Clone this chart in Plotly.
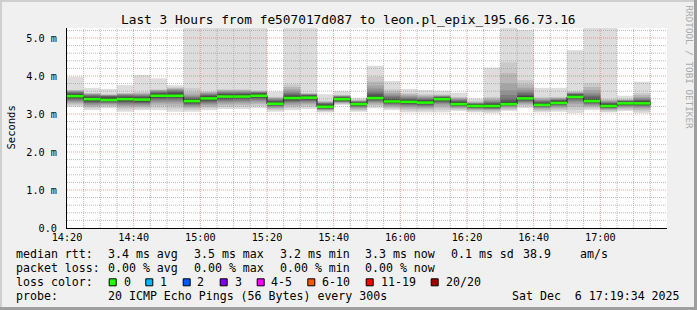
import plotly.graph_objects as go

# ---------------- data ----------------
DAY = "2025-12-06 "
bar_start = ["14:20", "14:25", "14:30", "14:35", "14:40", "14:45", "14:50", "14:55",
             "15:00", "15:05", "15:10", "15:15", "15:20", "15:25", "15:30", "15:35",
             "15:40", "15:45", "15:50", "15:55", "16:00", "16:05", "16:10", "16:15",
             "16:20", "16:25", "16:30", "16:35", "16:40", "16:45", "16:50", "16:55",
             "17:00", "17:05", "17:10"]
bar_end = bar_start[1:] + ["17:15"]

median_ms = [3.47, 3.39, 3.37, 3.39, 3.38, 3.48, 3.48, 3.34, 3.41, 3.46, 3.46, 3.48,
             3.27, 3.42, 3.43, 3.19, 3.39, 3.26, 3.42, 3.33, 3.32, 3.30, 3.39, 3.26,
             3.21, 3.21, 3.26, 3.41, 3.24, 3.29, 3.45, 3.34, 3.21, 3.28, 3.28]

# 20 sorted ping round-trip times per 5-minute step (ms), estimated from the smoke
pings_ms = [
    [3.19, 3.23, 3.27, 3.30, 3.33, 3.36, 3.38, 3.40, 3.42, 3.44, 3.50, 3.52, 3.54, 3.56, 3.58, 3.60, 3.61, 3.62, 3.63, 3.98],
    [3.10, 3.15, 3.19, 3.22, 3.25, 3.28, 3.30, 3.32, 3.34, 3.36, 3.42, 3.44, 3.46, 3.48, 3.50, 3.52, 3.53, 3.54, 3.55, 3.69],
    [3.15, 3.19, 3.22, 3.25, 3.27, 3.29, 3.31, 3.33, 3.35, 3.36, 3.42, 3.44, 3.46, 3.47, 3.48, 3.49, 3.50, 3.51, 3.52, 3.66],
    [3.06, 3.12, 3.17, 3.21, 3.24, 3.27, 3.30, 3.32, 3.34, 3.36, 3.42, 3.44, 3.46, 3.48, 3.50, 3.52, 3.53, 3.54, 3.55, 3.76],
    [3.10, 3.14, 3.18, 3.21, 3.24, 3.27, 3.29, 3.31, 3.33, 3.35, 3.41, 3.43, 3.45, 3.47, 3.49, 3.51, 3.53, 3.55, 3.58, 4.03],
    [3.10, 3.17, 3.23, 3.28, 3.32, 3.36, 3.39, 3.41, 3.43, 3.45, 3.51, 3.53, 3.55, 3.57, 3.59, 3.61, 3.62, 3.63, 3.65, 3.94],
    [3.06, 3.14, 3.21, 3.27, 3.32, 3.36, 3.39, 3.42, 3.44, 3.46, 3.51, 3.54, 3.57, 3.60, 3.62, 3.64, 3.66, 3.68, 3.70, 3.76],
    [3.06, 3.11, 3.15, 3.18, 3.21, 3.24, 3.26, 3.28, 3.30, 3.32, 3.37, 3.39, 3.41, 3.43, 3.45, 3.48, 3.52, 3.58, 3.68, 5.90],
    [3.10, 3.15, 3.19, 3.23, 3.26, 3.29, 3.32, 3.34, 3.36, 3.38, 3.44, 3.46, 3.48, 3.50, 3.52, 3.54, 3.56, 3.58, 3.59, 5.90],
    [3.13, 3.18, 3.23, 3.27, 3.31, 3.34, 3.37, 3.39, 3.41, 3.43, 3.49, 3.51, 3.53, 3.55, 3.57, 3.59, 3.61, 3.63, 3.65, 5.90],
    [3.13, 3.19, 3.24, 3.28, 3.32, 3.35, 3.38, 3.40, 3.42, 3.44, 3.49, 3.51, 3.53, 3.55, 3.57, 3.59, 3.61, 3.63, 3.65, 5.90],
    [3.15, 3.21, 3.26, 3.30, 3.34, 3.37, 3.40, 3.42, 3.44, 3.46, 3.51, 3.53, 3.55, 3.56, 3.57, 3.58, 3.59, 3.60, 3.62, 5.90],
    [3.06, 3.10, 3.13, 3.16, 3.18, 3.20, 3.22, 3.23, 3.24, 3.25, 3.30, 3.32, 3.34, 3.36, 3.38, 3.40, 3.42, 3.44, 3.45, 3.59],
    [3.10, 3.15, 3.20, 3.24, 3.28, 3.31, 3.33, 3.35, 3.37, 3.39, 3.45, 3.47, 3.50, 3.53, 3.56, 3.60, 3.65, 3.71, 3.78, 5.90],
    [3.13, 3.18, 3.23, 3.27, 3.30, 3.33, 3.35, 3.37, 3.39, 3.41, 3.46, 3.48, 3.49, 3.50, 3.51, 3.52, 3.53, 3.54, 3.55, 5.90],
    [3.04, 3.07, 3.09, 3.11, 3.12, 3.13, 3.14, 3.15, 3.16, 3.17, 3.22, 3.24, 3.26, 3.28, 3.29, 3.30, 3.31, 3.33, 3.35, 3.52],
    [3.24, 3.26, 3.28, 3.30, 3.31, 3.32, 3.33, 3.34, 3.35, 3.37, 3.42, 3.43, 3.44, 3.45, 3.46, 3.47, 3.48, 3.49, 3.50, 3.60],
    [3.06, 3.09, 3.12, 3.15, 3.17, 3.19, 3.20, 3.21, 3.22, 3.24, 3.29, 3.30, 3.31, 3.32, 3.33, 3.34, 3.35, 3.36, 3.38, 3.43],
    [3.15, 3.20, 3.24, 3.28, 3.31, 3.33, 3.35, 3.37, 3.39, 3.40, 3.45, 3.48, 3.52, 3.56, 3.61, 3.67, 3.75, 3.85, 3.98, 4.27],
    [3.10, 3.14, 3.17, 3.20, 3.23, 3.25, 3.27, 3.29, 3.30, 3.31, 3.36, 3.38, 3.41, 3.44, 3.47, 3.51, 3.55, 3.60, 3.65, 3.87],
    [3.04, 3.09, 3.13, 3.17, 3.20, 3.23, 3.25, 3.27, 3.28, 3.30, 3.35, 3.37, 3.39, 3.41, 3.43, 3.46, 3.49, 3.52, 3.55, 3.66],
    [3.04, 3.09, 3.13, 3.16, 3.19, 3.21, 3.23, 3.25, 3.27, 3.28, 3.33, 3.35, 3.37, 3.39, 3.41, 3.44, 3.46, 3.49, 3.52, 3.63],
    [3.04, 3.11, 3.17, 3.22, 3.26, 3.29, 3.31, 3.33, 3.35, 3.37, 3.42, 3.43, 3.44, 3.45, 3.46, 3.47, 3.48, 3.50, 3.52, 3.61],
    [3.08, 3.11, 3.14, 3.16, 3.18, 3.20, 3.21, 3.22, 3.23, 3.24, 3.29, 3.31, 3.33, 3.35, 3.37, 3.39, 3.41, 3.43, 3.45, 3.56],
    [3.04, 3.07, 3.10, 3.12, 3.14, 3.15, 3.16, 3.17, 3.18, 3.19, 3.24, 3.25, 3.26, 3.27, 3.28, 3.29, 3.30, 3.32, 3.35, 3.41],
    [3.02, 3.06, 3.09, 3.11, 3.13, 3.14, 3.15, 3.16, 3.17, 3.19, 3.24, 3.26, 3.28, 3.30, 3.32, 3.35, 3.38, 3.41, 3.45, 4.22],
    [3.08, 3.11, 3.14, 3.17, 3.19, 3.21, 3.22, 3.23, 3.24, 3.25, 3.29, 3.32, 3.36, 3.42, 3.50, 3.62, 3.80, 4.07, 4.36, 5.90],
    [3.15, 3.20, 3.24, 3.27, 3.30, 3.32, 3.34, 3.36, 3.38, 3.39, 3.44, 3.47, 3.50, 3.54, 3.58, 3.63, 3.69, 3.78, 3.89, 5.21],
    [3.04, 3.08, 3.11, 3.14, 3.16, 3.18, 3.19, 3.20, 3.21, 3.22, 3.27, 3.29, 3.31, 3.33, 3.35, 3.37, 3.39, 3.42, 3.45, 3.69],
    [3.06, 3.10, 3.14, 3.17, 3.20, 3.22, 3.24, 3.25, 3.26, 3.27, 3.32, 3.34, 3.36, 3.37, 3.38, 3.40, 3.41, 3.43, 3.45, 3.69],
    [3.02, 3.11, 3.19, 3.26, 3.31, 3.35, 3.38, 3.40, 3.42, 3.43, 3.48, 3.50, 3.52, 3.53, 3.54, 3.55, 3.56, 3.58, 3.60, 4.68],
    [3.10, 3.14, 3.18, 3.21, 3.24, 3.26, 3.28, 3.30, 3.31, 3.32, 3.37, 3.40, 3.43, 3.47, 3.51, 3.56, 3.63, 3.71, 3.81, 5.90],
    [3.04, 3.07, 3.10, 3.12, 3.14, 3.15, 3.16, 3.17, 3.18, 3.19, 3.24, 3.26, 3.28, 3.29, 3.31, 3.33, 3.35, 3.37, 3.40, 5.90],
    [3.08, 3.11, 3.14, 3.17, 3.19, 3.21, 3.23, 3.24, 3.25, 3.26, 3.31, 3.32, 3.33, 3.34, 3.35, 3.36, 3.37, 3.38, 3.40, 3.48],
    [3.02, 3.07, 3.11, 3.15, 3.18, 3.20, 3.22, 3.24, 3.25, 3.26, 3.31, 3.33, 3.35, 3.37, 3.39, 3.42, 3.45, 3.50, 3.55, 3.85],
]

x_tick_labels = ["14:20", "14:40", "15:00", "15:20", "15:40", "16:00", "16:20", "16:40", "17:00"]
x_minor_labels = ["14:25", "14:30", "14:35", "14:45", "14:50", "14:55", "15:05", "15:10", "15:15",
                  "15:25", "15:30", "15:35", "15:45", "15:50", "15:55", "16:05", "16:10", "16:15",
                  "16:25", "16:30", "16:35", "16:45", "16:50", "16:55", "17:05", "17:10", "17:15"]
y_tick_vals = [0, 1, 2, 3, 4, 5]
y_tick_text = ["0.0", "1.0 m", "2.0 m", "3.0 m", "4.0 m", "5.0 m"]
y_minor_vals = [0.2, 0.4, 0.6, 0.8, 1.2, 1.4, 1.6, 1.8, 2.2, 2.4, 2.6, 2.8, 3.2, 3.4, 3.6, 3.8,
                4.2, 4.4, 4.6, 4.8, 5.2]

smoke_colors = ["#dddddd", "#cacaca", "#b7b7b7", "#a4a4a4", "#919191",
                "#7e7e7e", "#6b6b6b", "#585858", "#454545", "#323232"]

loss_legend = [("0", "#26ff00"), ("1", "#00b8ff"), ("2", "#0059ff"), ("3", "#7e00ff"),
               ("4-5", "#ff00ff"), ("6-10", "#ff5500"), ("11-19", "#ff0000"), ("20/20", "#a10000")]

# ---------------- geometry ----------------
W, H = 697, 310
L, R, T, B = 67, 667, 28, 228
X0, X1 = DAY + "14:20:00", DAY + "17:20:00"
YMAX = 200 / 38.0
STEP_MS = 5 * 60 * 1000
MONO = "DejaVu Sans Mono"


def pxx(x):
    return (x - L) / (R - L)


def pxy(y):
    return (B - y) / (B - T)


def ts(hm):
    return DAY + hm + ":00"


xs = [ts(t) for t in bar_start]

fig = go.Figure()

# smoke layers (bars: drawn below all scatter traces)
n = 20
for k in range(10):
    lo = [p[k] for p in pings_ms]
    hi = [p[n - 1 - k] for p in pings_ms]
    fig.add_trace(go.Bar(
        x=xs, base=lo, y=[h - l for h, l in zip(hi, lo)],
        width=[STEP_MS] * len(xs), offset=0,
        marker=dict(color=smoke_colors[k], line=dict(width=0)),
        hoverinfo="skip", showlegend=False))


# grid (drawn over the smoke, as rrdtool does)
def hlines(vals):
    xx, yy = [], []
    for v in vals:
        xx += [X0, X1, None]
        yy += [v, v, None]
    return xx, yy


def vlines(labels):
    xx, yy = [], []
    for t in labels:
        xx += [ts(t), ts(t), None]
        yy += [0, YMAX, None]
    return xx, yy


minor_col = "rgba(143,143,143,0.6)"
major_col = "rgba(222,80,80,0.55)"
for xx, yy, col in [hlines(y_minor_vals) + (minor_col,), vlines(x_minor_labels) + (minor_col,),
                    hlines(y_tick_vals[1:]) + (major_col,), vlines(x_tick_labels[1:]) + (major_col,)]:
    fig.add_trace(go.Scatter(x=xx, y=yy, mode="lines",
                             line=dict(color=col, width=1, dash="1px,1px"),
                             hoverinfo="skip", showlegend=False))

# median step line (dark)
fig.add_trace(go.Scatter(
    x=xs + [ts(bar_end[-1])], y=median_ms + [median_ms[-1]],
    mode="lines", line=dict(color="#202020", width=1, shape="hv"),
    hoverinfo="skip", showlegend=False))

# median band coloured by loss (0 loss -> green), one segment per step
gx, gy = [], []
for s, e, m in zip(bar_start, bar_end, median_ms):
    gx += [ts(s), ts(e), None]
    gy += [m, m, None]
fig.add_trace(go.Scatter(x=gx, y=gy, mode="lines",
                         line=dict(color="#26ff00", width=2.6),
                         hoverinfo="skip", showlegend=False))

# axis arrows
fig.add_trace(go.Scatter(x=[X0], y=[YMAX + 3 / 38.0], mode="markers", cliponaxis=False,
                         marker=dict(symbol="triangle-up", size=6, color="#7f1f1f"),
                         hoverinfo="skip", showlegend=False))
fig.add_trace(go.Scatter(x=[DAY + "17:21:00"], y=[0], mode="markers", cliponaxis=False,
                         marker=dict(symbol="triangle-right", size=6, color="#7f1f1f"),
                         hoverinfo="skip", showlegend=False))

# ---------------- layout ----------------
fig.update_layout(
    width=W, height=H, autosize=False,
    margin=dict(l=L, r=W - R, t=T, b=H - B, pad=0),
    paper_bgcolor="#f0f0f0", plot_bgcolor="#ffffff",
    barmode="overlay", showlegend=False,
    xaxis=dict(type="date", range=[X0, X1], showgrid=False, zeroline=False,
               tickvals=[ts(t) for t in x_tick_labels], ticktext=x_tick_labels,
               ticks="", ticklabelstandoff=0,
               tickfont=dict(family=MONO, size=10.2, color="#000"),
               showline=True, linecolor="#000", linewidth=1),
    yaxis=dict(range=[0, YMAX], showgrid=False, zeroline=False,
               tickvals=y_tick_vals, ticktext=y_tick_text,
               ticks="", ticklabelstandoff=7,
               tickfont=dict(family=MONO, size=10.2, color="#000"),
               showline=True, linecolor="#000", linewidth=1),
)

ann = []


def text(x, y, s, size=11.6, anchor="left", color="#000", angle=0, yanchor="middle"):
    ann.append(dict(xref="paper", yref="paper", x=pxx(x), y=pxy(y), text=s.replace(" ", "\u00a0"),
                    showarrow=False, xanchor=anchor, yanchor=yanchor, textangle=angle,
                    borderpad=0, font=dict(family=MONO, size=size, color=color)))


text(348.5, 19, "Last 3 Hours from fe507017d087 to leon.pl_epix_195.66.73.16", size=12.8, anchor="center")
text(10.5, 128, "Seconds", size=10.5, anchor="center", angle=-90)
text(688.5, 4, "RRDTOOL / TOBI OETIKER", size=9.3, anchor="center", color="#aaaaaa", angle=90, yanchor="top")

y1, y2, y3, y4 = 254.3, 268.3, 282.3, 296
text(15, y1, "median rtt:")
for xpos, s in [(106.5, "3.4 ms avg"), (192.5, "3.5 ms max"), (278.5, "3.2 ms min"),
                (364.3, "3.3 ms now"), (449.5, "0.1 ms sd"), (522, "38.9"), (579, "am/s")]:
    text(xpos, y1, s)
text(15, y2, "packet loss:")
for xpos, s in [(106.5, "0.00 % avg"), (192.5, "0.00 % max"), (278.5, "0.00 % min"), (364.3, "0.00 % now")]:
    text(xpos, y2, s)
text(15, y3, "loss color:")
box_x = [108.7, 145.3, 182.7, 219.7, 256.7, 307.3, 365.7, 430.7]
lbl_x = [122.5, 159.3, 196.2, 233.5, 270.2, 321.2, 380.2, 444.5]
shapes = []
for (lbl, col), bx, lx in zip(loss_legend, box_x, lbl_x):
    text(lx, y3, lbl)
    shapes.append(dict(type="rect", xref="paper", yref="paper",
                       x0=pxx(bx + 0.5), x1=pxx(bx + 7.5), y0=pxy(y3 - 3.5), y1=pxy(y3 + 3.5),
                       fillcolor=col, line=dict(color="#000", width=1)))
text(15, y4, "probe:")
text(106.5, y4, "20 ICMP Echo Pings (56 Bytes) every 300s")
text(681, y4, "Sat Dec  6 17:19:34 2025", anchor="right")

# frame (3-D border)
for (a, b, c, d, col) in [(0, 0, W, 2, "#cfcfcf"), (0, 0, 2, H, "#cfcfcf"),
                          (W - 3, 0, W, H, "#9e9e9e"), (0, H - 3, W, H, "#9e9e9e")]:
    shapes.append(dict(type="rect", xref="paper", yref="paper", layer="below",
                       x0=pxx(a), x1=pxx(c), y0=pxy(b), y1=pxy(d),
                       fillcolor=col, line=dict(width=0)))

fig.update_layout(annotations=ann, shapes=shapes)
fig.write_html("out.html")
